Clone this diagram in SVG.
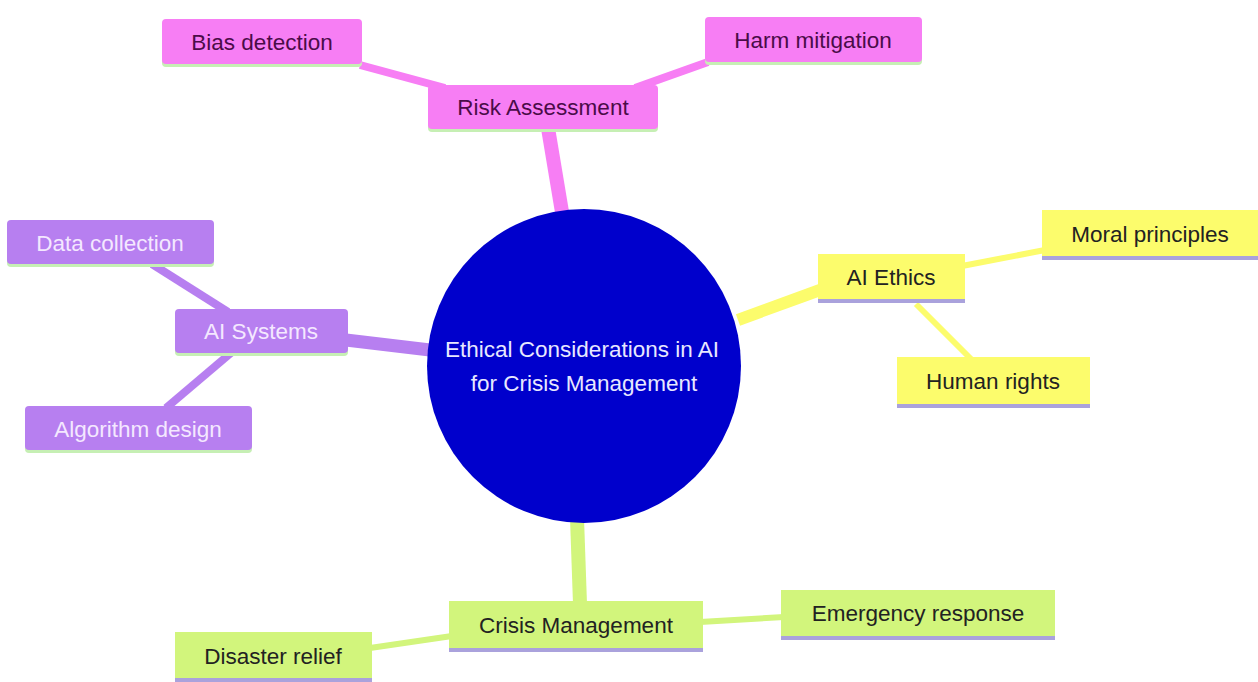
<svg xmlns="http://www.w3.org/2000/svg" width="1258" height="682" viewBox="0 0 1258 682">
<style>
text{font-family:"Liberation Sans",Arial,sans-serif;font-size:22.5px;text-anchor:middle;dominant-baseline:central}
.pk{fill:#f77ef4}.pu{fill:#b77ff0}.ye{fill:#fcfc6c}.gr{fill:#d2f57c}
.ulg{fill:#c6efb4}.ulb{fill:#aaa2dc}
.tpk{fill:#4a0c48}.tpu{fill:#f4e8ff}.tdk{fill:#222}
.c{fill:none;stroke-linecap:butt}
</style>
<rect width="1258" height="682" fill="#fff"/>
<g id="connectors">
<line class="c" x1="548" y1="128" x2="562" y2="212" stroke="#f77ef4" stroke-width="14"/>
<line class="c" x1="360" y1="65" x2="445" y2="88" stroke="#f77ef4" stroke-width="8"/>
<line class="c" x1="708" y1="62" x2="635" y2="88" stroke="#f77ef4" stroke-width="8"/>
<line class="c" x1="346" y1="340" x2="430" y2="350" stroke="#b77ff0" stroke-width="13"/>
<line class="c" x1="152" y1="264" x2="228" y2="312" stroke="#b77ff0" stroke-width="8"/>
<line class="c" x1="166" y1="408" x2="232" y2="352" stroke="#b77ff0" stroke-width="8"/>
<line class="c" x1="820" y1="290" x2="738" y2="320" stroke="#fcfc6c" stroke-width="12"/>
<line class="c" x1="962" y1="266" x2="1045" y2="250" stroke="#fcfc6c" stroke-width="6"/>
<line class="c" x1="916" y1="304" x2="972" y2="360" stroke="#fcfc6c" stroke-width="6"/>
<line class="c" x1="577" y1="518" x2="580" y2="604" stroke="#d2f57c" stroke-width="14"/>
<line class="c" x1="700" y1="622" x2="784" y2="617" stroke="#d2f57c" stroke-width="6"/>
<line class="c" x1="370" y1="648" x2="452" y2="636" stroke="#d2f57c" stroke-width="6"/>
</g>
<g id="center">
<circle cx="584" cy="366" r="157" fill="#0000cc"/>
<text x="582" y="349" fill="#e8e8ff">Ethical Considerations in AI</text>
<text x="584" y="383" fill="#e8e8ff">for Crisis Management</text>
</g>
<g id="risk-assessment">
<rect class="ulg" x="428" y="88" width="230" height="44" rx="4"/>
<rect class="pk" x="428" y="85" width="230" height="44" rx="4"/>
<text class="tpk" x="543" y="107">Risk Assessment</text>
</g>
<g id="bias-detection">
<rect class="ulg" x="162" y="22" width="200" height="45" rx="4"/>
<rect class="pk" x="162" y="19" width="200" height="45" rx="4"/>
<text class="tpk" x="262" y="42">Bias detection</text>
</g>
<g id="harm-mitigation">
<rect class="ulg" x="705" y="20" width="217" height="45" rx="4"/>
<rect class="pk" x="705" y="17" width="217" height="45" rx="4"/>
<text class="tpk" x="813" y="40">Harm mitigation</text>
</g>
<g id="ai-systems">
<rect class="ulg" x="175" y="312" width="173" height="44" rx="4"/>
<rect class="pu" x="175" y="309" width="173" height="44" rx="4"/>
<text class="tpu" x="261" y="331">AI Systems</text>
</g>
<g id="data-collection">
<rect class="ulg" x="7" y="223" width="207" height="44" rx="4"/>
<rect class="pu" x="7" y="220" width="207" height="44" rx="4"/>
<text class="tpu" x="110" y="243">Data collection</text>
</g>
<g id="algorithm-design">
<rect class="ulg" x="25" y="409" width="227" height="44" rx="4"/>
<rect class="pu" x="25" y="406" width="227" height="44" rx="4"/>
<text class="tpu" x="138" y="429">Algorithm design</text>
</g>
<g id="ai-ethics">
<rect class="ulb" x="818" y="256" width="147" height="47"/>
<rect class="ye" x="818" y="254" width="147" height="45"/>
<text class="tdk" x="891" y="277">AI Ethics</text>
</g>
<g id="moral-principles">
<rect class="ulb" x="1042" y="212" width="216" height="48"/>
<rect class="ye" x="1042" y="210" width="216" height="46"/>
<text class="tdk" x="1150" y="234">Moral principles</text>
</g>
<g id="human-rights">
<rect class="ulb" x="897" y="359" width="193" height="49"/>
<rect class="ye" x="897" y="357" width="193" height="47"/>
<text class="tdk" x="993" y="381">Human rights</text>
</g>
<g id="crisis-management">
<rect class="ulb" x="449" y="603" width="254" height="49"/>
<rect class="gr" x="449" y="601" width="254" height="47"/>
<text class="tdk" x="576" y="625">Crisis Management</text>
</g>
<g id="emergency-response">
<rect class="ulb" x="781" y="592" width="274" height="48"/>
<rect class="gr" x="781" y="590" width="274" height="46"/>
<text class="tdk" x="918" y="613">Emergency response</text>
</g>
<g id="disaster-relief">
<rect class="ulb" x="175" y="634" width="197" height="48"/>
<rect class="gr" x="175" y="632" width="197" height="46"/>
<text class="tdk" x="273" y="656">Disaster relief</text>
</g>
</svg>
